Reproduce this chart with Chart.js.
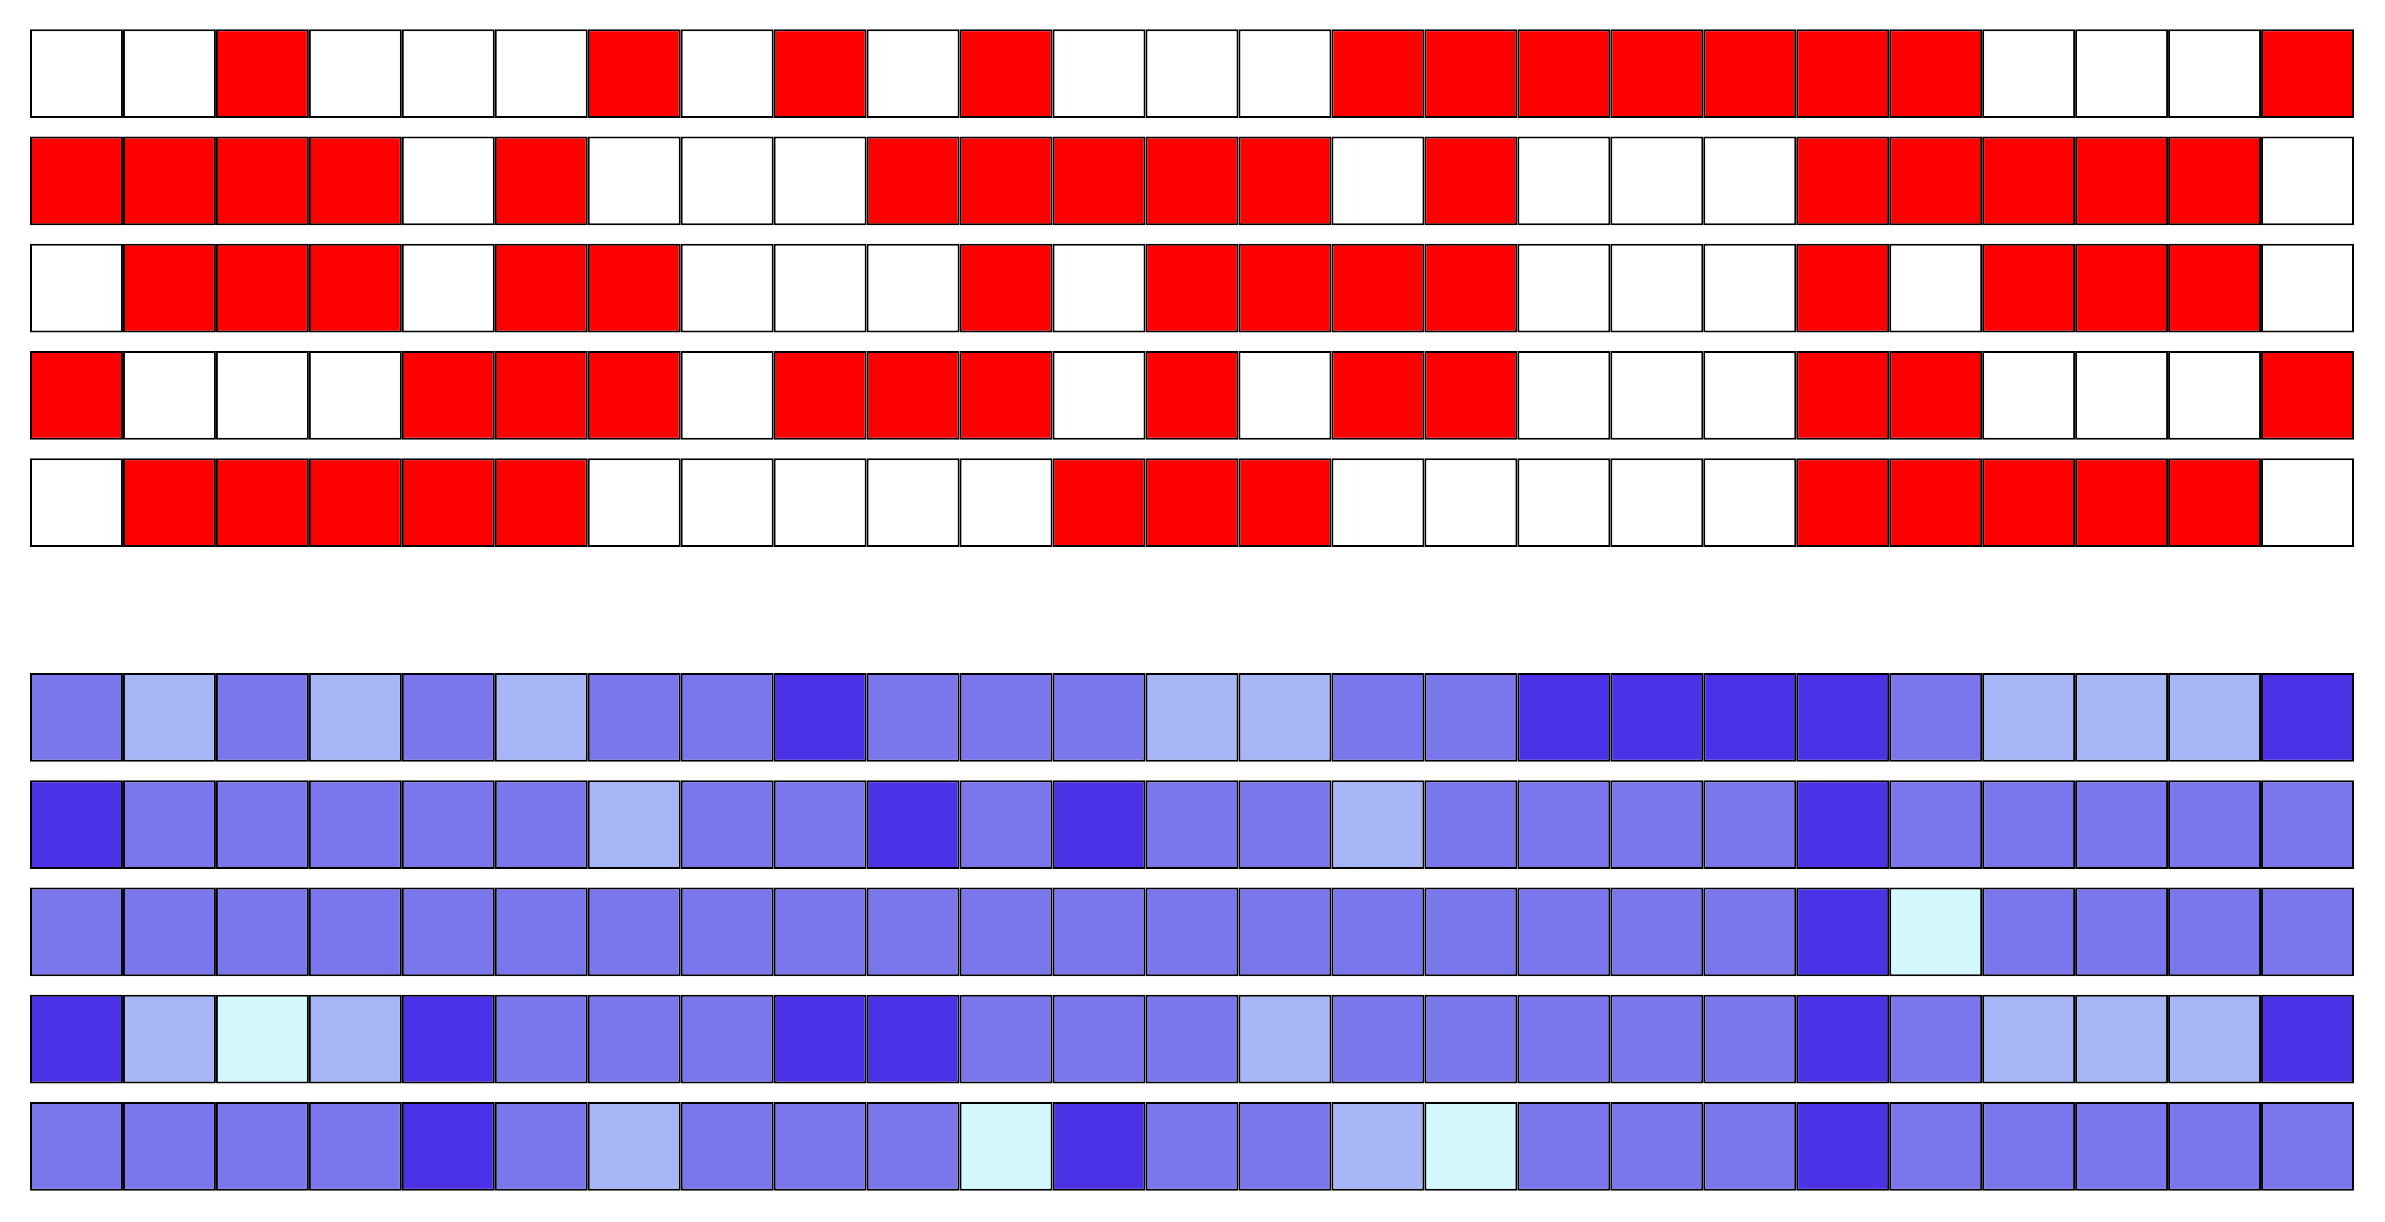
<!DOCTYPE html>
<html lang="en">

<head>
    <meta charset="UTF-8" />
    <title>Binary grid and level grid</title>
    <script src="https://cdn.jsdelivr.net/npm/chart.js"></script>
    <style>
        body {
            background-color: #ffffff;
            margin: 0;
            padding: 0;
        }

        #chart-container {
            width: 2385px;
            height: 1222px;
            position: relative;
        }
    </style>
</head>

<body>
    <div id="chart-container">
        <canvas id="grids"></canvas>
    </div>

    <script>
        // 25 columns, 5 rows per grid, one empty row between the two grids
        const columns = ['1', '2', '3', '4', '5', '6', '7', '8', '9', '10', '11', '12', '13',
            '14', '15', '16', '17', '18', '19', '20', '21', '22', '23', '24', '25'];
        const rowLabels = ['A1', 'A2', 'A3', 'A4', 'A5', '', 'B1', 'B2', 'B3', 'B4', 'B5'];

        // top grid: 1 = red, 0 = white
        const binaryGrid = [
            [0, 0, 1, 0, 0, 0, 1, 0, 1, 0, 1, 0, 0, 0, 1, 1, 1, 1, 1, 1, 1, 0, 0, 0, 1],
            [1, 1, 1, 1, 0, 1, 0, 0, 0, 1, 1, 1, 1, 1, 0, 1, 0, 0, 0, 1, 1, 1, 1, 1, 0],
            [0, 1, 1, 1, 0, 1, 1, 0, 0, 0, 1, 0, 1, 1, 1, 1, 0, 0, 0, 1, 0, 1, 1, 1, 0],
            [1, 0, 0, 0, 1, 1, 1, 0, 1, 1, 1, 0, 1, 0, 1, 1, 0, 0, 0, 1, 1, 0, 0, 0, 1],
            [0, 1, 1, 1, 1, 1, 0, 0, 0, 0, 0, 1, 1, 1, 0, 0, 0, 0, 0, 1, 1, 1, 1, 1, 0]
        ];

        // bottom grid: 0 = palest ... 3 = darkest
        const levelGrid = [
            [2, 1, 2, 1, 2, 1, 2, 2, 3, 2, 2, 2, 1, 1, 2, 2, 3, 3, 3, 3, 2, 1, 1, 1, 3],
            [3, 2, 2, 2, 2, 2, 1, 2, 2, 3, 2, 3, 2, 2, 1, 2, 2, 2, 2, 3, 2, 2, 2, 2, 2],
            [2, 2, 2, 2, 2, 2, 2, 2, 2, 2, 2, 2, 2, 2, 2, 2, 2, 2, 2, 3, 0, 2, 2, 2, 2],
            [3, 1, 0, 1, 3, 2, 2, 2, 3, 3, 2, 2, 2, 1, 2, 2, 2, 2, 2, 3, 2, 1, 1, 1, 3],
            [2, 2, 2, 2, 3, 2, 1, 2, 2, 2, 0, 3, 2, 2, 1, 0, 2, 2, 2, 3, 2, 2, 2, 2, 2]
        ];

        const binaryColors = ['#ffffff', '#ff0000'];
        const levelColors = ['#d2f8fe', '#a7b6f6', '#7a77ed', '#4b32e6'];

        function cellColor(row, col) {
            if (row < 5) return binaryColors[binaryGrid[row][col]];
            if (row > 5) return levelColors[levelGrid[row - 6][col]];
            return 'rgba(0,0,0,0)';
        }

        // one stacked dataset per column, each cell one unit wide
        const datasets = columns.map((name, col) => ({
            label: name,
            data: rowLabels.map((r, row) => (row === 5 ? null : 1)),
            backgroundColor: rowLabels.map((r, row) => cellColor(row, col)),
            borderColor: '#000000',
            borderWidth: 2,
            borderSkipped: false,
            inflateAmount: 0,
            barPercentage: 1,
            categoryPercentage: 0.827
        }));

        new Chart(document.getElementById('grids'), {
            type: 'bar',
            data: { labels: rowLabels, datasets: datasets },
            options: {
                indexAxis: 'y',
                responsive: true,
                maintainAspectRatio: false,
                animation: false,
                layout: { padding: { left: 30, right: 31, top: 20, bottom: 22 } },
                scales: {
                    x: { type: 'linear', stacked: true, min: 0, max: 25, display: false },
                    y: { stacked: true, display: false }
                },
                plugins: {
                    legend: { display: false },
                    tooltip: { enabled: false }
                }
            }
        });
    </script>
</body>

</html>
